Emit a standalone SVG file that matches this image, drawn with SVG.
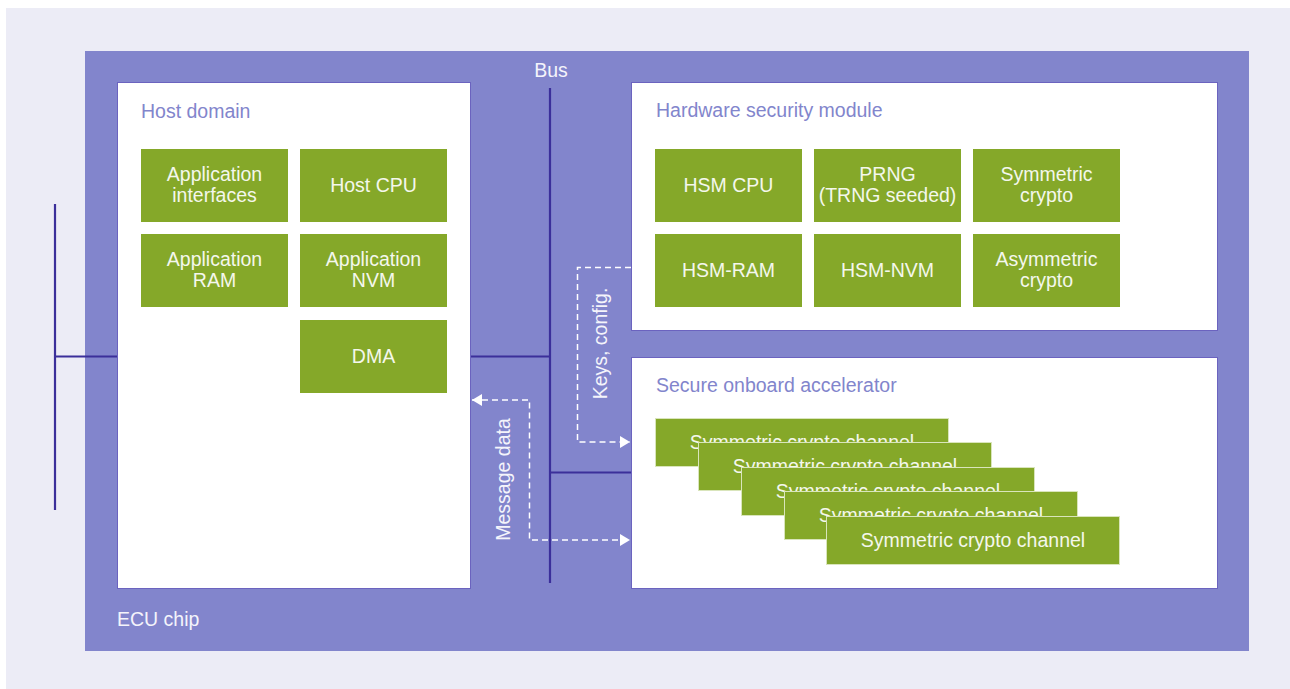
<svg xmlns="http://www.w3.org/2000/svg" width="1290" height="689" viewBox="0 0 1290 689">
  <style>
    text { font-family: "Liberation Sans", Arial, sans-serif; font-size: 19.5px; }
    .blk { fill: #85a829; }
    .blk-t { fill: #f4f7ec; text-anchor: middle; }
    .dom { fill: #ffffff; stroke: #6b63bf; stroke-width: 1; }
    .dom-t { fill: #8285cc; }
    .chip-t { fill: #f4f4fb; }
    .bus { stroke: #3b2f9a; stroke-width: 2.2; fill: none; }
    .flow { stroke: #ffffff; stroke-width: 1.5; fill: none; stroke-dasharray: 6 4; }
    .chan { fill: #85a829; stroke: #d9e5bb; stroke-width: 1; }
  </style>
  <defs>
    <marker id="tip" viewBox="0 0 10 12" refX="10" refY="6" markerWidth="10" markerHeight="12" markerUnits="userSpaceOnUse" orient="auto-start-reverse">
      <path d="M0,0 L10,6 L0,12 Z" fill="#ffffff"/>
    </marker>
  </defs>

  <!-- page background -->
  <rect x="0" y="0" width="1290" height="689" fill="#ffffff"/>
  <rect x="6" y="8" width="1284" height="681" fill="#ececf6"/>

  <!-- ECU chip -->
  <g id="ecu-chip">
    <rect x="85" y="51" width="1164" height="600" fill="#8285cc"/>
    <text class="chip-t" x="117" y="626">ECU chip</text>
  </g>

  <!-- Host domain -->
  <g id="host-domain">
    <rect class="dom" x="117.5" y="82.5" width="353" height="506"/>
    <text class="dom-t" x="141" y="118">Host domain</text>
  </g>
  <g id="app-interfaces">
    <rect class="blk" x="141" y="149" width="147" height="73"/>
    <text class="blk-t" x="214.5" y="181">Application</text>
    <text class="blk-t" x="214.5" y="202">interfaces</text>
  </g>
  <g id="host-cpu">
    <rect class="blk" x="300" y="149" width="147" height="73"/>
    <text class="blk-t" x="373.5" y="192">Host CPU</text>
  </g>
  <g id="app-ram">
    <rect class="blk" x="141" y="234" width="147" height="73"/>
    <text class="blk-t" x="214.5" y="266">Application</text>
    <text class="blk-t" x="214.5" y="287">RAM</text>
  </g>
  <g id="app-nvm">
    <rect class="blk" x="300" y="234" width="147" height="73"/>
    <text class="blk-t" x="373.5" y="266">Application</text>
    <text class="blk-t" x="373.5" y="287">NVM</text>
  </g>
  <g id="dma">
    <rect class="blk" x="300" y="320" width="147" height="73"/>
    <text class="blk-t" x="373.5" y="363">DMA</text>
  </g>

  <!-- Hardware security module -->
  <g id="hsm">
    <rect class="dom" x="631.5" y="82.5" width="586" height="248"/>
    <text class="dom-t" x="656" y="117">Hardware security module</text>
  </g>
  <g id="hsm-cpu">
    <rect class="blk" x="655" y="149" width="147" height="73"/>
    <text class="blk-t" x="728.5" y="192">HSM CPU</text>
  </g>
  <g id="prng">
    <rect class="blk" x="814" y="149" width="147" height="73"/>
    <text class="blk-t" x="887.5" y="181">PRNG</text>
    <text class="blk-t" x="887.5" y="202">(TRNG seeded)</text>
  </g>
  <g id="sym-crypto">
    <rect class="blk" x="973" y="149" width="147" height="73"/>
    <text class="blk-t" x="1046.5" y="181">Symmetric</text>
    <text class="blk-t" x="1046.5" y="202">crypto</text>
  </g>
  <g id="hsm-ram">
    <rect class="blk" x="655" y="234" width="147" height="73"/>
    <text class="blk-t" x="728.5" y="277">HSM-RAM</text>
  </g>
  <g id="hsm-nvm">
    <rect class="blk" x="814" y="234" width="147" height="73"/>
    <text class="blk-t" x="887.5" y="277">HSM-NVM</text>
  </g>
  <g id="asym-crypto">
    <rect class="blk" x="973" y="234" width="147" height="73"/>
    <text class="blk-t" x="1046.5" y="266">Asymmetric</text>
    <text class="blk-t" x="1046.5" y="287">crypto</text>
  </g>

  <!-- Secure onboard accelerator -->
  <g id="soa">
    <rect class="dom" x="631.5" y="357.5" width="586" height="231"/>
    <text class="dom-t" x="656" y="392">Secure onboard accelerator</text>
  </g>
  <g id="channel-1">
    <rect class="chan" x="655.5" y="418.5" width="293" height="48"/>
    <text class="blk-t" x="802" y="449">Symmetric crypto channel</text>
  </g>
  <g id="channel-2">
    <rect class="chan" x="698.5" y="442.5" width="293" height="48"/>
    <text class="blk-t" x="845" y="473">Symmetric crypto channel</text>
  </g>
  <g id="channel-3">
    <rect class="chan" x="741.5" y="467.5" width="293" height="48"/>
    <text class="blk-t" x="888" y="498">Symmetric crypto channel</text>
  </g>
  <g id="channel-4">
    <rect class="chan" x="784.5" y="491.5" width="293" height="48"/>
    <text class="blk-t" x="931" y="522">Symmetric crypto channel</text>
  </g>
  <g id="channel-5">
    <rect class="chan" x="826.5" y="516.5" width="293" height="48"/>
    <text class="blk-t" x="973" y="547">Symmetric crypto channel</text>
  </g>

  <!-- bus and data flows -->
  <g id="connectors">
    <text class="chip-t" x="551" y="77" text-anchor="middle">Bus</text>
    <line class="bus" x1="550" y1="88" x2="550" y2="583"/>
    <line class="bus" x1="471" y1="356.5" x2="550" y2="356.5"/>
    <line class="bus" x1="550" y1="472.5" x2="631" y2="472.5"/>
    <line class="bus" x1="55" y1="204" x2="55" y2="510"/>
    <line class="bus" x1="55" y1="356.5" x2="117" y2="356.5"/>

    <path class="flow" d="M631,267.5 H577.5 V442 H630" marker-end="url(#tip)"/>
    <text class="chip-t" transform="translate(607,343.5) rotate(-90)" text-anchor="middle">Keys, config.</text>

    <path class="flow" d="M472,400 H529.5 V540 H630" marker-start="url(#tip)" marker-end="url(#tip)"/>
    <text class="chip-t" transform="translate(510,479.5) rotate(-90)" text-anchor="middle">Message data</text>
  </g>
</svg>
